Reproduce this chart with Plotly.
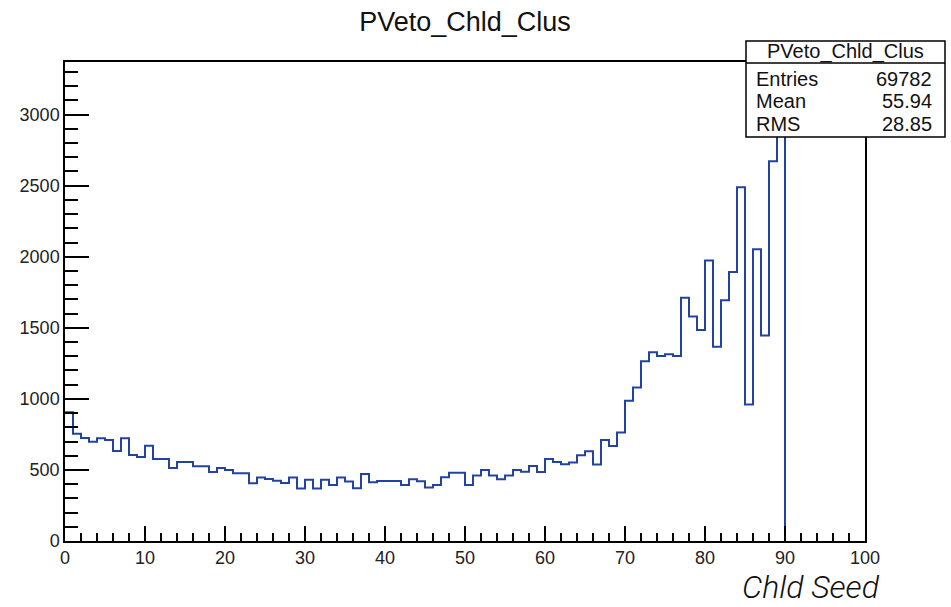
import numpy as np
import plotly.graph_objects as go

# Bin contents of PVeto_Chld_Clus, unit-width bins starting at 0
counts = [
    905, 755, 725, 698, 723, 711, 634, 723, 605, 591,
    671, 577, 577, 513, 555, 555, 526, 526, 486, 513,
    500, 477, 477, 406, 447, 436, 424, 408, 447, 369,
    431, 370, 431, 394, 446, 418, 371, 472, 413, 422,
    422, 422, 394, 434, 420, 377, 394, 448, 481, 481,
    394, 460, 500, 460, 434, 460, 500, 488, 528, 486,
    577, 556, 540, 552, 603, 631, 538, 711, 669, 764,
    987, 1080, 1264, 1328, 1302, 1314, 1301, 1711, 1580, 1484,
    1974, 1367, 1693, 1893, 2488, 960, 2052, 1446, 2672, 3210,
]
x_min, x_max = 0, 100
y_max = 3370

stat_title = "PVeto_Chld_Clus"
stat_names = ["Entries", "Mean", "RMS"]
stat_values = ["69782", "55.94", "28.85"]
x_title = "Chld Seed"

edges = np.arange(len(counts) + 1)
step_y = list(counts) + [0]

W, H = 951, 607
L, R, T, B = 65, 865, 62, 541


def px_x(p):
    return (p - L) / (R - L)


def px_y(p):
    return (B - p) / (B - T)


fig = go.Figure()
fig.add_trace(go.Scatter(
    x=edges, y=step_y, mode="lines", line_shape="hv",
    line=dict(color="#2343a3", width=2), hoverinfo="skip",
))

font_main = "Liberation Sans, Arial, sans-serif"

fig.update_layout(
    width=W, height=H,
    margin=dict(l=L, r=W - R, t=T, b=H - B),
    paper_bgcolor="white", plot_bgcolor="white",
    showlegend=False,
    title=dict(text=stat_title, x=0.5, xref="paper", xanchor="center",
               y=1 - 22 / H, yanchor="middle",
               font=dict(family=font_main, size=27, color="#111")),
    font=dict(family=font_main, color="#111"),
)

fig.update_xaxes(
    range=[x_min, x_max], showgrid=False, zeroline=False,
    showline=True, linecolor="black", linewidth=1.5, mirror=True,
    ticks="inside", ticklen=15, tickwidth=1.5, tickcolor="black",
    tick0=0, dtick=10,
    minor=dict(ticks="inside", ticklen=8, dtick=2, tickcolor="black", tickwidth=1.5),
    tickfont=dict(size=18, family=font_main, color="#222"),
)
fig.update_yaxes(
    range=[0, y_max], showgrid=False, zeroline=False,
    showline=True, linecolor="black", linewidth=1.5, mirror=True,
    ticks="inside", ticklen=24, tickwidth=1.5, tickcolor="black",
    tick0=0, dtick=500,
    minor=dict(ticks="inside", ticklen=13, dtick=100, tickcolor="black", tickwidth=1.5),
    tickfont=dict(size=18, family=font_main, color="#222"),
)

# Statistics box
bx0, bx1, by0, by1, bsep = 746, 945, 41, 137, 63
fig.add_shape(type="rect", xref="paper", yref="paper", layer="above",
              x0=px_x(bx0), x1=px_x(bx1), y0=px_y(by1), y1=px_y(by0),
              line=dict(color="black", width=1.5), fillcolor="white")
fig.add_shape(type="line", xref="paper", yref="paper", layer="above",
              x0=px_x(bx0), x1=px_x(bx1), y0=px_y(bsep), y1=px_y(bsep),
              line=dict(color="black", width=1.5))
fig.add_annotation(xref="paper", yref="paper", x=px_x((bx0 + bx1) / 2), y=px_y(52),
                   text=stat_title, showarrow=False, xanchor="center", yanchor="middle",
                   font=dict(size=20, family=font_main, color="#111"))
for name, val, yy in zip(stat_names, stat_values, [79, 101, 124]):
    fig.add_annotation(xref="paper", yref="paper", x=px_x(754), y=px_y(yy),
                       text=name, showarrow=False, xanchor="left", yanchor="middle",
                       font=dict(size=20, family=font_main, color="#111"))
    fig.add_annotation(xref="paper", yref="paper", x=px_x(934), y=px_y(yy),
                       text=val, showarrow=False, xanchor="right", yanchor="middle",
                       font=dict(size=20, family=font_main, color="#111"))

# X axis title
fig.add_annotation(xref="paper", yref="paper", x=px_x(881), y=px_y(587),
                   text=x_title, showarrow=False, xanchor="right", yanchor="middle",
                   borderpad=0,
                   font=dict(size=32, family="Roboto, Liberation Sans, sans-serif",
                             color="#111", style="italic", weight=300))

fig.write_html("out.html")
